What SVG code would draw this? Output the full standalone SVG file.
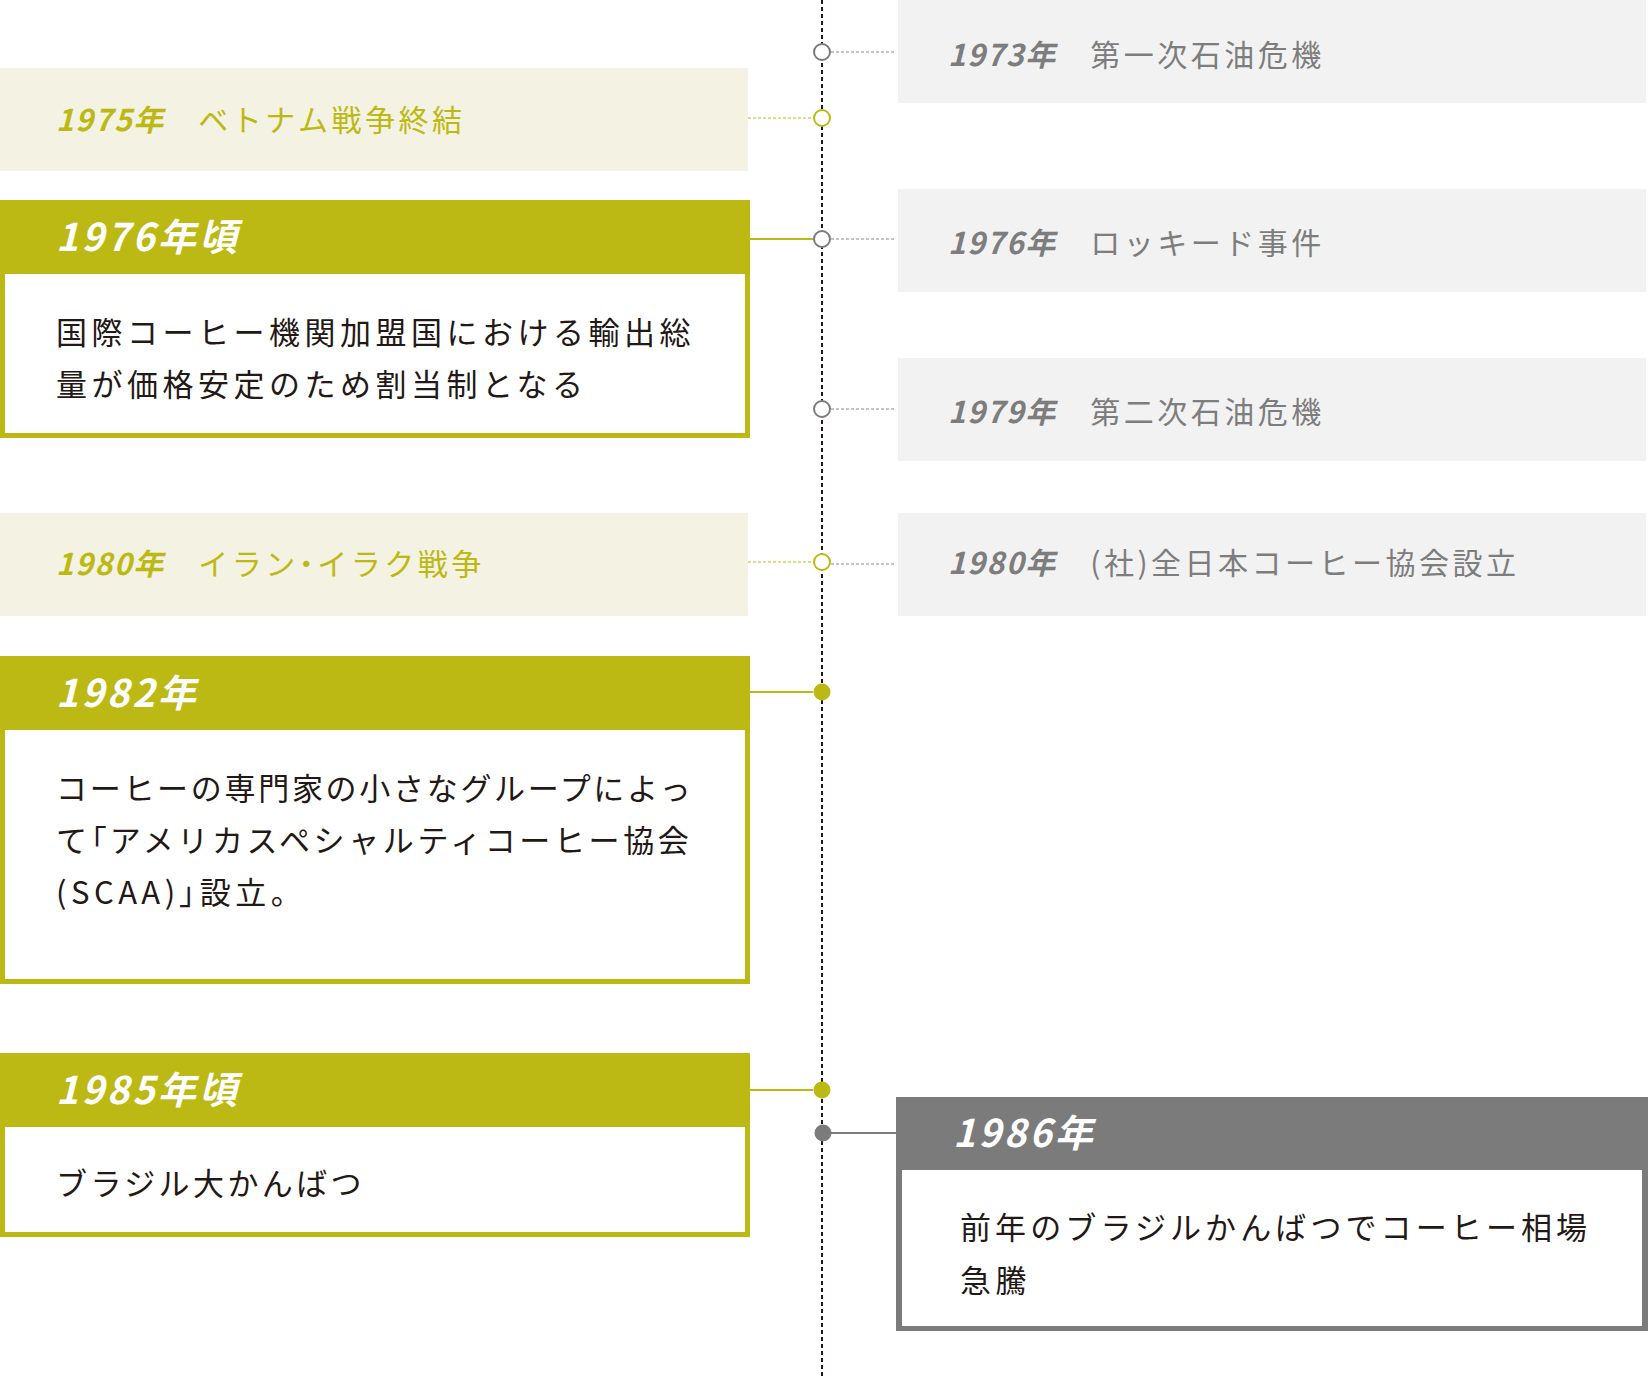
<svg xmlns="http://www.w3.org/2000/svg" width="1649" height="1377" viewBox="0 0 1649 1377">
<style>
text{font-family:"Noto Sans CJK JP","Noto Sans",sans-serif;}
.ev{font-size:30px;letter-spacing:3.5px;}
.yr{font-weight:bold;font-style:italic;letter-spacing:1.6px;}
.pa{font-feature-settings:"palt" 1;}
.ol{fill:#bdb914;}
.gy{fill:#7d7d7d;}
.hd{font-size:38px;font-weight:bold;font-style:italic;fill:#ffffff;letter-spacing:3px;}
.bd{font-size:31px;fill:#231815;letter-spacing:4.5px;}
.tl{stroke:#231815;stroke-width:2;stroke-dasharray:4 3;fill:none;}
.dg{stroke:#8a8a8a;stroke-width:1;stroke-dasharray:3 2;fill:none;}
.do{stroke:#bdb914;stroke-width:1;stroke-dasharray:3 2;fill:none;}
.so{stroke:#bdb914;stroke-width:2;fill:none;}
.sg{stroke:#7b7b7b;stroke-width:2;fill:none;}
.cg{fill:#ffffff;stroke:#7b7b7b;stroke-width:2;}
.co{fill:#ffffff;stroke:#bdb914;stroke-width:2;}
.fo{fill:#bdb914;}
.fg{fill:#7b7b7b;}
</style>

<g id="connectors">
<line class="tl" x1="822" y1="0" x2="822" y2="1377"/>
<line class="dg" x1="831" y1="52" x2="896" y2="52"/>
<line class="do" x1="748" y1="118" x2="813" y2="118"/>
<line class="so" x1="750" y1="239" x2="813" y2="239"/>
<line class="dg" x1="831" y1="239" x2="896" y2="239"/>
<line class="dg" x1="831" y1="409" x2="896" y2="409"/>
<line class="do" x1="748" y1="562" x2="813" y2="562"/>
<line class="dg" x1="831" y1="564" x2="896" y2="564"/>
<line class="so" x1="750" y1="692" x2="813" y2="692"/>
<line class="so" x1="750" y1="1090" x2="813" y2="1090"/>
<line class="sg" x1="831" y1="1133" x2="896" y2="1133"/>
<circle class="cg" cx="822" cy="52" r="8"/>
<circle class="co" cx="822" cy="118" r="8"/>
<circle class="cg" cx="822" cy="239" r="8"/>
<circle class="cg" cx="822" cy="409" r="8"/>
<circle class="co" cx="822" cy="562" r="8"/>
<circle class="fo" cx="822" cy="692" r="8.5"/>
<circle class="fo" cx="822" cy="1090" r="8.5"/>
<circle class="fg" cx="823" cy="1133" r="8.5"/>
</g>

<g id="ev1973">
<rect x="898" y="0" width="748" height="103" fill="#f2f2f2"/>
<text class="ev gy" x="948" y="66"><tspan class="yr">1973年</tspan>　第一次石油危機</text>
</g>

<g id="ev1975">
<rect x="0" y="68" width="748" height="103" fill="#f3f2e3"/>
<text class="ev ol" x="56" y="131"><tspan class="yr">1975年</tspan>　ベトナム戦争終結</text>
</g>

<g id="ev1976coffee">
<rect x="0" y="200" width="750" height="238" fill="#bdb914"/>
<rect x="5" y="274" width="740" height="159" fill="#ffffff"/>
<text class="hd" x="56" y="251">1976年頃</text>
<text class="bd" x="56" y="344">国際コーヒー機関加盟国における輸出総</text>
<text class="bd" x="56" y="396">量が価格安定のため割当制となる</text>
</g>

<g id="ev1976">
<rect x="898" y="189" width="748" height="103" fill="#f2f2f2"/>
<text class="ev gy" x="948" y="254"><tspan class="yr">1976年</tspan>　ロッキード事件</text>
</g>

<g id="ev1979">
<rect x="898" y="358" width="748" height="103" fill="#f2f2f2"/>
<text class="ev gy" x="948" y="423"><tspan class="yr">1979年</tspan>　第二次石油危機</text>
</g>

<g id="ev1980left">
<rect x="0" y="513" width="748" height="103" fill="#f3f2e3"/>
<text class="ev ol" x="56" y="575"><tspan class="yr">1980年</tspan>　イラン<tspan class="pa">・</tspan>イラク戦争</text>
</g>

<g id="ev1980right">
<rect x="898" y="513" width="748" height="103" fill="#f2f2f2"/>
<text class="ev gy" x="948" y="574"><tspan class="yr">1980年</tspan>　(社)全日本コーヒー協会設立</text>
</g>

<g id="ev1982">
<rect x="0" y="656" width="750" height="328" fill="#bdb914"/>
<rect x="5" y="730" width="740" height="249" fill="#ffffff"/>
<text class="hd" x="56" y="707">1982年</text>
<text class="bd" x="56" y="800" style="letter-spacing:2.7px">コーヒーの専門家の小さなグループによっ</text>
<text class="bd" x="56" y="852" style="letter-spacing:3.6px">て<tspan class="pa">「</tspan>アメリカスペシャルティコーヒー協会</text>
<text class="bd" x="56" y="904">(SCAA)<tspan class="pa">」</tspan>設立。</text>
</g>

<g id="ev1985">
<rect x="0" y="1053" width="750" height="184" fill="#bdb914"/>
<rect x="5" y="1127" width="740" height="105" fill="#ffffff"/>
<text class="hd" x="56" y="1104">1985年頃</text>
<text class="bd" x="56" y="1195" style="letter-spacing:3.4px">ブラジル大かんばつ</text>
</g>

<g id="ev1986">
<rect x="896" y="1097" width="752" height="234" fill="#7b7b7b"/>
<rect x="902" y="1170" width="740" height="156" fill="#ffffff"/>
<text class="hd" x="953" y="1147">1986年</text>
<text class="bd" x="960" y="1239" style="letter-spacing:4.1px">前年のブラジルかんばつでコーヒー相場</text>
<text class="bd" x="960" y="1292">急騰</text>
</g>
</svg>
